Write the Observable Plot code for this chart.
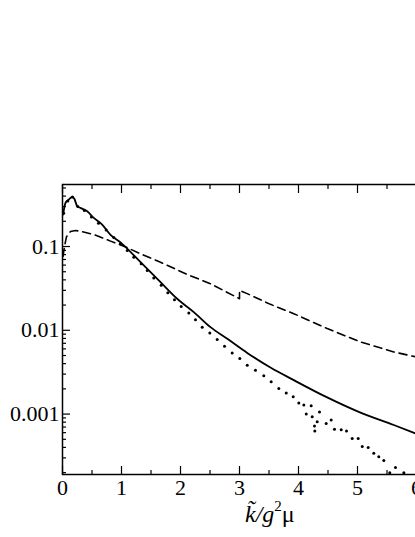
<!DOCTYPE html>
<html><head><meta charset="utf-8">
<script src="https://cdn.jsdelivr.net/npm/d3@7"></script>
<script src="https://cdn.jsdelivr.net/npm/@observablehq/plot@0.6"></script>
<style>html,body{margin:0;padding:0;background:#fff;overflow:hidden} svg{display:block}</style>
</head><body><div id="chart"></div>
<script>
// Solid curve
const solidX = [0.01,0.05,0.107,0.164,0.2,0.25,0.305,0.418,0.53,0.672,0.814,0.983,1.039,1.378,1.661,1.944,2.225,2.508,2.8,3.131,3.525,3.92,4.486,5.051,5.615,6.0];
const solidY = [0.24,0.331,0.363,0.39,0.372,0.302,0.289,0.263,0.22,0.183,0.138,0.112,0.103,0.0594,0.0376,0.0238,0.0165,0.0109,0.00785,0.00537,0.00359,0.00254,0.00158,0.00104,0.00074,0.00058];
// Dashed curve
const dashX = [0.008,0.034,0.068,0.136,0.22,0.305,0.53,0.814,1.039,1.322,1.661,2.113,2.508,3.0,3.0,3.13,3.525,3.92,4.486,5.051,5.615,6.0];
const dashY = [0.076,0.1,0.131,0.151,0.155,0.152,0.139,0.116,0.101,0.082,0.065,0.0464,0.036,0.0238,0.0300,0.0274,0.0204,0.0158,0.0105,0.00726,0.00552,0.0048];
// Dotted series (points)
const dotX = [0.02,0.09,0.17,0.26,0.37,0.49,0.61,0.74,0.87,0.98,1.097,1.208,1.334,1.436,1.547,1.673,1.785,1.898,2.012,2.141,2.254,2.368,2.497,2.622,2.746,2.876,3.005,3.131,3.271,3.412,3.537,3.666,3.792,3.91,4.005,4.09,4.215,4.131,4.232,4.271,4.276,4.317,4.356,4.469,4.554,4.61,4.724,4.814,4.91,5.012,5.08,5.181,5.276,5.361,5.446,5.547,5.644,5.785];
const dotY = [0.25,0.35,0.39,0.30,0.27,0.225,0.19,0.158,0.128,0.108,0.0896,0.0746,0.0622,0.0518,0.042,0.0344,0.0281,0.0232,0.0193,0.0161,0.0134,0.0109,0.00929,0.00775,0.00645,0.00537,0.0046,0.00383,0.00334,0.00287,0.00243,0.00202,0.00179,0.00161,0.00136,0.00128,0.00126,0.001,0.00093,0.00072,0.00063,0.00081,0.00106,0.00077,0.00085,0.00066,0.00065,0.00063,0.00051,0.00051,0.00041,0.0004,0.00034,0.00031,0.00028,0.0002,0.00023,0.0002];
// Ticks
const xMajor = [0,1,2,3,4,5,6];
const xMinor = [0.5,1.5,2.5,3.5,4.5,5.5];
const yMajor = [0.001,0.01,0.1];
const yLabels = ["0.001","0.01","0.1"];
const yMinor = [0.0002,0.0003,0.0004,0.0005,0.0006,0.0007,0.0008,0.0009,0.002,0.003,0.004,0.005,0.006,0.007,0.008,0.009,0.02,0.03,0.04,0.05,0.06,0.07,0.08,0.09,0.2,0.3,0.4,0.5];

const solid = solidX.map((x,i)=>({x, y: solidY[i]}));
const dashed = dashX.map((x,i)=>({x, y: dashY[i]}));
const dotted = dotX.map((x,i)=>({x, y: dotY[i]}));

const font = "'Liberation Serif','Times New Roman',Times,serif";
const none = () => "";

const chart = Plot.plot({
  width: 415, height: 537,
  marginLeft: 62, marginRight: -1, marginTop: 184, marginBottom: 63,
  style: {fontFamily: font, fontSize: "22px", color: "#000", background: "#fff", overflow: "hidden"},
  x: {domain: [0, 6]},
  y: {type: "log", domain: [0.00019, 0.55]},
  marks: [
    Plot.line(dashed, {x: "x", y: "y", stroke: "#000", strokeWidth: 1.6, strokeDasharray: "8,5"}),
    Plot.line(solid, {x: "x", y: "y", stroke: "#000", strokeWidth: 1.8, curve: "monotone-x"}),
    Plot.dot(dotted, {x: "x", y: "y", r: 1.5, fill: "#000", stroke: null}),
    Plot.frame({stroke: "#000", strokeWidth: 1.5}),
    Plot.axisX({ticks: xMajor, anchor: "bottom", tickSize: -8, tickFormat: none, label: null, strokeWidth: 1.2}),
    Plot.axisX({ticks: xMinor, anchor: "bottom", tickSize: -4, tickFormat: none, label: null, strokeWidth: 1.2}),
    Plot.axisX({ticks: xMajor, anchor: "top", tickSize: -8, tickFormat: none, label: null, strokeWidth: 1.2}),
    Plot.axisX({ticks: xMinor, anchor: "top", tickSize: -4, tickFormat: none, label: null, strokeWidth: 1.2}),
    Plot.axisX({ticks: xMajor, anchor: "bottom", tickSize: 0, tickPadding: 5, tickFormat: d => String(d), label: null, fontSize: 22, fontFamily: font}),
    Plot.axisY({ticks: yMajor, anchor: "left", tickSize: -8, tickFormat: none, label: null, strokeWidth: 1.2}),
    Plot.axisY({ticks: yMinor, anchor: "left", tickSize: -4, tickFormat: none, label: null, strokeWidth: 1.2}),
    Plot.axisY({ticks: yMajor, anchor: "left", tickSize: 0, tickPadding: 3, tickFormat: d => yLabels[yMajor.indexOf(d)], label: null, fontSize: 22, fontFamily: font})
  ]
});
document.getElementById("chart").appendChild(chart);

// x-axis title: k̃/g²μ
const svg = d3.select(chart);
const t = svg.append("text")
  .attr("x", 245).attr("y", 522)
  .attr("text-anchor", "start")
  .attr("font-family", font).attr("font-size", 24).attr("fill", "#000");
t.append("tspan").attr("font-style", "italic").text("k\u0303/g");
t.append("tspan").attr("font-size", 15).attr("dy", -11).text("2");
t.append("tspan").attr("dy", 11).text("\u03bc");
</script>
</body></html>
